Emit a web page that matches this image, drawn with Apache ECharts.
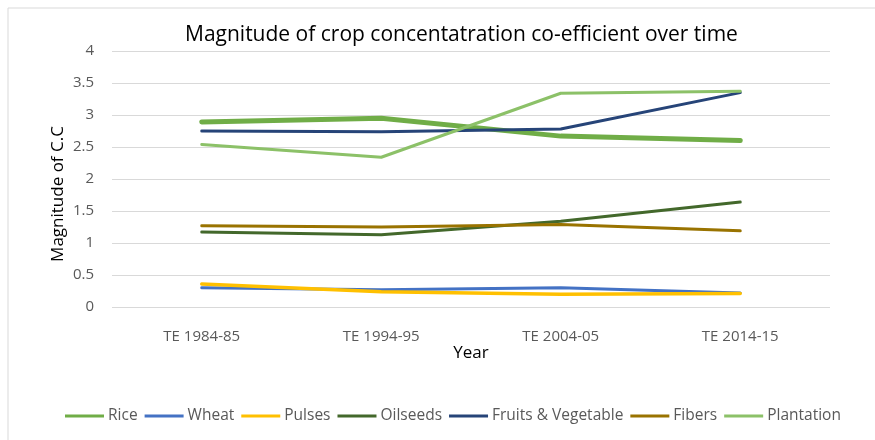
<!DOCTYPE html>
<html>
<head>
<meta charset="utf-8">
<script src="https://cdn.jsdelivr.net/npm/echarts@6/dist/echarts.min.js"></script>
<style>
  html, body { margin: 0; padding: 0; background: #fff; }
  #chart { width: 875px; height: 440px; }
</style>
</head>
<body>
<div id="chart"></div>
<script>
// Crop concentration coefficient by triennium ending (TE) period
const years = ['TE 1984-85', 'TE 1994-95', 'TE 2004-05', 'TE 2014-15'];
const rice = [2.89, 2.95, 2.67, 2.60];
const wheat = [0.30, 0.27, 0.30, 0.22];
const pulses = [0.36, 0.24, 0.20, 0.21];
const oilseeds = [1.17, 1.13, 1.34, 1.64];
const fruitsVeg = [2.75, 2.74, 2.78, 3.35];
const fibers = [1.27, 1.25, 1.29, 1.19];
const plantation = [2.54, 2.34, 3.34, 3.37];
const yTicks = [0, 0.5, 1, 1.5, 2, 2.5, 3, 3.5, 4];

const font = '"Open Sans", sans-serif';

const seriesDefs = [
  { name: 'Rice', data: rice, color: '#70AD47', width: 5 },
  { name: 'Wheat', data: wheat, color: '#4472C4', width: 3 },
  { name: 'Pulses', data: pulses, color: '#FFC000', width: 3.5 },
  { name: 'Oilseeds', data: oilseeds, color: '#43682B', width: 3 },
  { name: 'Fruits & Vegetable', data: fruitsVeg, color: '#264478', width: 3 },
  { name: 'Fibers', data: fibers, color: '#997300', width: 3 },
  { name: 'Plantation', data: plantation, color: '#8CC168', width: 3 }
];

const chart = echarts.init(document.getElementById('chart'), null, { renderer: 'canvas' });
chart.setOption({
  animation: false,
  backgroundColor: '#fff',
  graphic: [{
    type: 'rect',
    shape: { x: 8, y: 8, width: 900, height: 460 },
    style: { fill: 'none', stroke: '#d9d9d9', lineWidth: 1 },
    silent: true
  }],
  title: {
    text: 'Magnitude of crop concentatration co-efficient over time',
    left: 180,
    top: 20,
    textStyle: { fontFamily: font, fontSize: 21, fontWeight: 'normal', color: '#000' }
  },
  legend: {
    bottom: 11,
    left: 60,
    itemWidth: 39,
    itemHeight: 3,
    itemGap: 7,
    icon: 'rect',
    textStyle: { fontFamily: font, fontSize: 15.5, color: '#595959', padding: [0, 0, 0, -1] },
    data: seriesDefs.map(s => s.name)
  },
  grid: { left: 112, right: 45, top: 51, bottom: 133 },
  xAxis: {
    type: 'category',
    data: years,
    boundaryGap: true,
    name: 'Year',
    nameLocation: 'middle',
    nameGap: 38,
    nameMoveOverlap: false,
    nameTextStyle: { fontFamily: font, fontSize: 17, color: '#000' },
    axisLine: { show: false },
    axisTick: { show: false },
    axisLabel: { fontFamily: font, fontSize: 15, color: '#595959', margin: 22 }
  },
  yAxis: {
    type: 'value',
    min: yTicks[0],
    max: yTicks[yTicks.length - 1],
    interval: 0.5,
    name: 'Magnitude of C.C',
    nameLocation: 'middle',
    nameRotate: 90,
    nameGap: 45,
    nameMoveOverlap: false,
    nameTextStyle: { fontFamily: font, fontSize: 17, color: '#000', padding: [0, 30, 0, 0] },
    axisLine: { show: false },
    axisTick: { show: false },
    axisLabel: { fontFamily: font, fontSize: 15, color: '#595959', margin: 18 },
    splitLine: { lineStyle: { color: '#d9d9d9', width: 1 } }
  },
  series: seriesDefs.map(s => ({
    name: s.name,
    type: 'line',
    data: s.data,
    symbol: 'none',
    smooth: false,
    itemStyle: { color: s.color },
    lineStyle: { color: s.color, width: s.width, cap: 'round', join: 'round' }
  }))
});
</script>
</body>
</html>
